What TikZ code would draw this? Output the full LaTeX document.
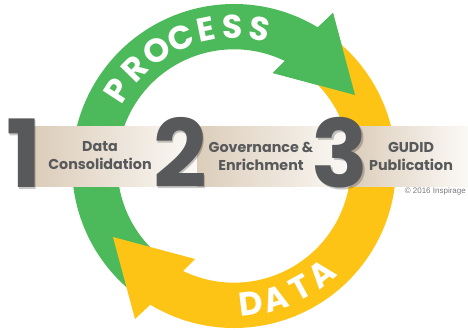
\documentclass[tikz,border=0pt]{standalone}
\usepackage{fontspec}
\setmainfont{Poppins}
\newfontfamily\smallfont{Liberation Sans}
\usetikzlibrary{positioning}

\definecolor{procgreen}{RGB}{76,185,90}
\definecolor{datayellow}{RGB}{253,195,21}
\definecolor{numgray}{RGB}{88,89,91}
\definecolor{bandtan}{RGB}{220,205,186}
\definecolor{bandend}{RGB}{251,249,246}

\tikzset{
  stagenum/.style={text=numgray, font=\fontsize{94}{94}\selectfont\bfseries, inner sep=0pt, anchor=base},
  numshadow/.style={stagenum, text=black, opacity=0.22},
  stagetext/.style={text=numgray, font=\fontsize{14.3}{18}\selectfont\bfseries, align=center, inner sep=0pt},
  ringletter/.style={text=white, font=\fontsize{33}{33}\selectfont\bfseries, inner sep=0pt},
  bandpart/.style={left color=bandtan, right color=bandend},
}

\begin{document}
\begin{tikzpicture}[x=1pt,y=1pt]
\useasboundingbox (-234,-163) rectangle (234,166);

% process arrow
\fill[procgreen] (235:162) arc[start angle=235,end angle=58.9,radius=162]
  -- (99,153) -- (121,71) -- (39,93)
  -- (64.1:116.7) arc[start angle=64.1,end angle=235,radius=116.7] -- cycle;

% data arrow
\fill[datayellow] (55:162) arc[start angle=55,end angle=-121.1,radius=162]
  -- (-99,-153) -- (-121,-71) -- (-39,-93)
  -- (-115.9:116.7) arc[start angle=-115.9,end angle=55,radius=116.7] -- cycle;

% green head lies over the yellow tail
\fill[procgreen] (99,153) -- (121,71) -- (39,93) -- cycle;

\foreach \ch/\ang [count=\i] in {P/147,R/135.5,O/124,C/112.5,E/101.5,S/90.5,S/79.5}
  \node[ringletter, rotate=\ang-90] (proc\i) at (\ang:139) {\ch};

\foreach \ch/\ang [count=\i] in {D/-83,A/-72.5,T/-61.5,A/-51}
  \node[ringletter, rotate=\ang+90] (data\i) at (\ang:139) {\ch};

% band
\shade[bandpart] (-200,-20) rectangle (-37,39);
\shade[bandpart] (-37,-20) rectangle (116,39);
\shade[bandpart] (116,-20) rectangle (234,39);

\node[numshadow] (sh1) at (-208.5,-23.5) {1};
\node[numshadow] (sh2) at (-52.5,-23.5) {2};
\node[numshadow] (sh3) at (107.5,-23.5) {3};
\node[stagenum] (num1) at (-210,-22) {1};
\node[stagenum] (num2) at (-54,-22) {2};
\node[stagenum] (num3) at (106,-22) {3};

\node[stagetext] (step1) at (-134,10) {Data\\Consolidation};
\node[stagetext] (step2) at (27,10) {Governance \&\\Enrichment};
\node[stagetext] (step3) at (177,10) {GUDID\\Publication};

\node[anchor=east, inner sep=0pt, text=numgray!80, font=\smallfont\fontsize{8}{9}\selectfont] (copy) at (232,-25) {© 2016 Inspirage};

\end{tikzpicture}
\end{document}
